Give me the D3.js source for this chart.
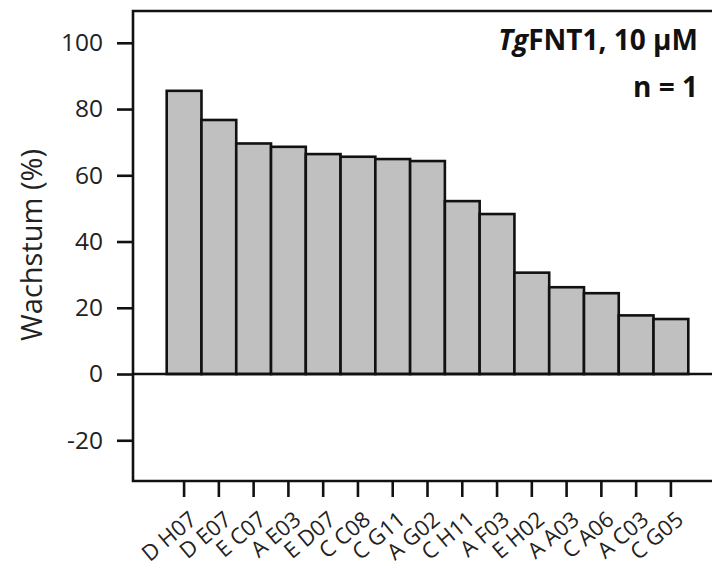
<!DOCTYPE html>
<html><head><meta charset="utf-8">
<script src="https://cdn.jsdelivr.net/npm/d3@7/dist/d3.min.js"></script>
<style>body{margin:0;background:#fff}svg{display:block}</style>
</head><body>
<svg id="c" width="712" height="570"></svg>
<script>
const categories = ["D H07","D E07","E C07","A E03","E D07","C C08","C G11","A G02","C H11","A F03","E H02","A A03","C A06","A C03","C G05"];
const values = [85.5,76.7,69.6,68.6,66.4,65.6,64.9,64.3,52.2,48.3,30.6,26.2,24.4,17.7,16.6];
const yTicks = [-20,0,20,40,60,80,100];
const yLabel = "Wachstum (%)";
const titleItalic = "Tg";
const titleRest = "FNT1, 10 µM";
const subtitle = "n = 1";

(function(){
const font = "'Open Sans', sans-serif";
const svg = d3.select("#c");
const L = 133, T = 11, B = 481, R = 714;
const x = d3.scaleBand().domain(categories).range([166.7, 688.3]).padding(0);
const y = d3.scaleLinear().domain([-32.3, 109.6]).range([B, T]);

// bars
svg.append("g").selectAll("rect").data(values).join("rect")
  .attr("x", (d,i) => x(categories[i]))
  .attr("width", x.bandwidth())
  .attr("y", d => y(Math.max(0,d)))
  .attr("height", d => Math.abs(y(d) - y(0)))
  .attr("fill", "#c0c0c0").attr("stroke", "#111").attr("stroke-width", 2.6);

// zero line
svg.append("line").attr("x1", L).attr("x2", R).attr("y1", y(0)).attr("y2", y(0))
  .attr("stroke", "#111").attr("stroke-width", 2.6);

// frame (top, left, bottom)
svg.append("path").attr("d", `M${R},${T}H${L}V${B}H${R}`)
  .attr("fill", "none").attr("stroke", "#111").attr("stroke-width", 2.6);

// y axis
const ya = svg.append("g").attr("transform", `translate(${L},0)`)
  .call(d3.axisLeft(y).tickValues(yTicks).tickSize(16).tickPadding(14).tickFormat(d => String(d)));
ya.select(".domain").remove();
ya.selectAll(".tick line").attr("stroke", "#111").attr("stroke-width", 2.6);
ya.selectAll(".tick text").attr("font-family", font).attr("font-size", 24.5).attr("fill", "#222");

// x axis
const xa = svg.append("g").attr("transform", `translate(0,${B})`)
  .call(d3.axisBottom(x).tickSize(16));
xa.select(".domain").remove();
xa.selectAll(".tick line").attr("stroke", "#111").attr("stroke-width", 2.6);
xa.selectAll(".tick text").attr("font-family", font).attr("font-size", 22).attr("fill", "#222")
  .attr("text-anchor", "end").attr("y", 0).attr("dy", "0.35em")
  .attr("transform", "translate(9,35) rotate(-40)");

// y label
svg.append("text").attr("transform", "translate(42,245) rotate(-90)")
  .attr("text-anchor", "middle").attr("font-family", font).attr("font-size", 29).attr("fill", "#222")
  .text(yLabel);

// title
const t = svg.append("text").attr("x", 698).attr("y", 50).attr("text-anchor", "end")
  .attr("font-family", font).attr("font-size", 28).attr("font-weight", "bold").attr("fill", "#111");
t.append("tspan").attr("font-style", "italic").text(titleItalic);
t.append("tspan").text(titleRest);
svg.append("text").attr("x", 698).attr("y", 97).attr("text-anchor", "end")
  .attr("font-family", font).attr("font-size", 28).attr("font-weight", "bold").attr("fill", "#111")
  .text(subtitle);
})();
</script>
</body></html>
